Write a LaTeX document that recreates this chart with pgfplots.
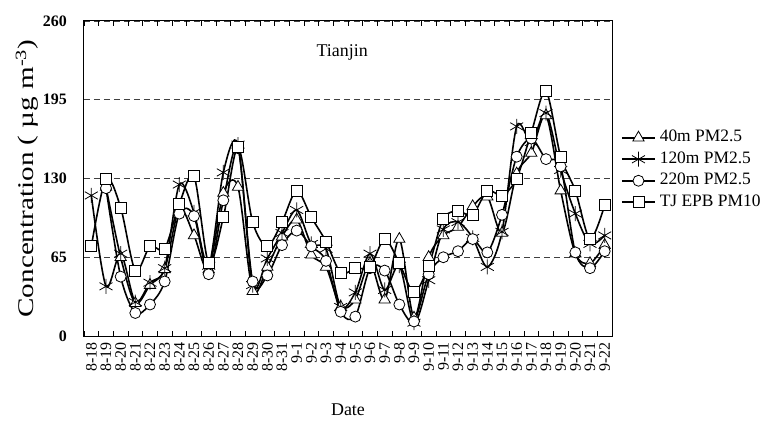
\documentclass[border=0pt]{standalone}
\usepackage{pgfplots}
\pgfplotsset{compat=1.18}
\usepackage{fontspec}
\setmainfont{Liberation Serif}
\usepackage{pgfplotstable}
\pgfplotstableread{
i tri ast circ sq
0 nan 116 nan 74
1 123 41 122 130
2 65 68 49 106
3 27 28 19 54
4 42 44 26 74
5 55 56 45 72
6 105 125 101 109
7 83 102 99 132
8 55 58 51 60
9 118 135 112 98
10 123 158 155 156
11 37 42 45 94
12 57 64 50 74
13 82 85 75 94
14 96 104 87 120
15 67 76 74 98
16 57 72 62 78
17 24 24 20 52
18 30 36 16 56
19 60 68 56 57
20 30 38 54 80
21 80 58 26 60
22 15 11 12 36
23 65 46 51 58
24 83 88 65 97
25 90 94 70 103
26 107 81 80 100
27 115 57 69 120
28 85 86 100 116
29 134 173 148 130
30 151 160 163 168
31 182 184 146 202
32 120 137 140 148
33 68 101 69 120
34 60 76 56 80
35 75 83 70 108
}\data
\begin{document}
\begin{tikzpicture}[x=1bp,y=1bp]
\useasboundingbox (-84bp,-85bp) rectangle (679bp,336bp);
\begin{axis}[
 at={(0,0)}, anchor=south west,
 scale only axis, width=528bp, height=315bp,
 xmin=-0.5, xmax=35.5, ymin=0, ymax=260,
 axis line style={line width=1bp},
 ytick={0,65,130,195,260},
 ymajorgrids,
 grid style={dashed, black!75, line width=0.8bp, dash pattern=on 6bp off 4bp},
 ytick style={draw=none},
 yticklabel style={font=\fontsize{16}{16}\selectfont\bfseries, inner sep=0pt},
 yticklabel shift={17bp},
 /pgf/number format/assume math mode=true,
 xtick={0,...,35},
 xticklabels={8-18,8-19,8-20,8-21,8-22,8-23,8-24,8-25,8-26,8-27,8-28,8-29,8-30,8-31,9-1,9-2,9-3,9-4,9-5,9-6,9-7,9-8,9-9,9-10,9-11,9-12,9-13,9-14,9-15,9-16,9-17,9-18,9-19,9-20,9-21,9-22},
 major x tick style={draw=none},
 minor xtick={-0.5,0.5,...,35.5},
 minor tick length=5bp,
 tick align=inside,
 minor x tick style={black, line width=0.8bp},
 xticklabel style={rotate=90, anchor=east, font=\fontsize{16}{16}\selectfont, inner sep=0pt},
 xticklabel shift={6bp},
 xlabel={Date},
 xlabel style={font=\fontsize{18}{18}\selectfont, at={(axis description cs:0.5,-0.235)}, anchor=center},
 ylabel={\scalebox{1.3}[1]{Concentration ( µg m\textsuperscript{-3})}},
 ylabel style={font=\fontsize{22.5}{22.5}\selectfont\mdseries, at={(axis description cs:-0.108,0.5)}, anchor=center, rotate=0},
 legend style={draw=none, at={(axis description cs:1,0.527)}, anchor=west, xshift=6bp,
   font=\fontsize{17.5}{17.5}\selectfont, nodes={inner sep=1bp, text height=12bp, text depth=4bp},
   row sep=3.5bp},
 legend cell align=left,
 legend image code/.code={\draw[#1, mark repeat=2, mark phase=2] plot coordinates {(0bp,0bp) (16.5bp,0bp) (33bp,0bp)};},
 every axis plot/.append style={black, line width=1.6bp, smooth, tension=0.5},
 unbounded coords=jump,
]
\addplot[mark=triangle*, mark options={fill=white, line width=0.8bp, solid}, mark size=6.5bp] table[x=i,y=tri]{\data};
\addlegendentry{\hspace{3bp}40m PM2.5}
\addplot[mark=asterisk, mark options={line width=0.8bp, solid}, mark size=7.5bp] table[x=i,y=ast]{\data};
\addlegendentry{\hspace{3bp}120m PM2.5}
\addplot[mark=*, mark options={fill=white, line width=0.8bp, solid}, mark size=5.5bp] table[x=i,y=circ]{\data};
\addlegendentry{\hspace{3bp}220m PM2.5}
\addplot[mark=square*, mark options={fill=white, line width=0.8bp, solid}, mark size=5.5bp] table[x=i,y=sq]{\data};
\addlegendentry{\hspace{3bp}TJ EPB PM10}
\node[font=\fontsize{18}{18}\selectfont] at (axis cs:17.1,234) {Tianjin};
\end{axis}
\end{tikzpicture}
\end{document}
